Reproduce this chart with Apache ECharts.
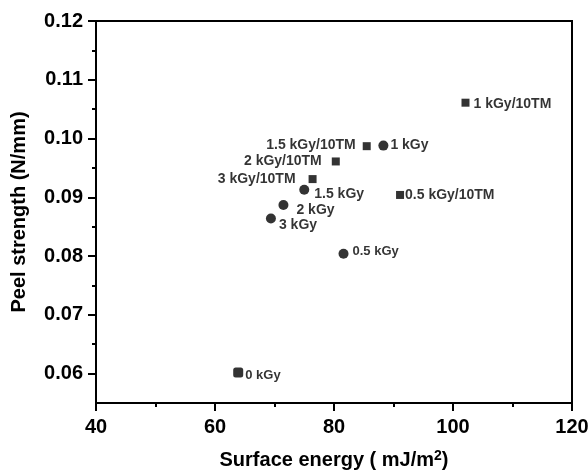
<!DOCTYPE html>
<html>
<head>
<meta charset="utf-8">
<title>Peel strength vs surface energy</title>
<script src="https://cdn.jsdelivr.net/npm/echarts@6/dist/echarts.min.js"></script>
<style>
  html, body { margin: 0; padding: 0; background: #fff; }
  #chart { width: 588px; height: 472px; }
</style>
</head>
<body>
<div id="chart"></div>
<script>
// irradiated samples (circles)
const doseNames = ['0 kGy', '0.5 kGy', '1 kGy', '1.5 kGy', '2 kGy', '3 kGy']
const doseEnergy = [63.9, 81.6, 88.3, 75.0, 71.5, 69.4]
const dosePeel = [0.0602, 0.0804, 0.0988, 0.0913, 0.0887, 0.0864]

// irradiated + 10TM samples (squares)
const tmNames = ['0.5 kGy/10TM', '1 kGy/10TM', '1.5 kGy/10TM', '2 kGy/10TM', '3 kGy/10TM']
const tmEnergy = [91.1, 102.1, 85.5, 80.3, 76.4]
const tmPeel = [0.0904, 0.1061, 0.0987, 0.0961, 0.0931]

const xTicks = [40, 60, 80, 100, 120]
const yTicks = [0.06, 0.07, 0.08, 0.09, 0.10, 0.11, 0.12]
const yMinorTicks = [0.065, 0.075, 0.085, 0.095, 0.105, 0.115]

// where each label sits next to its marker
const labelLayout = {
  '0 kGy': { position: 'right', distance: 2, offset: [0, 3], fontSize: 13 },
  '0.5 kGy': { position: 'right', distance: 4, offset: [0, -2], fontSize: 13 },
  '1 kGy': { position: 'right', distance: 2, offset: [0, 0] },
  '1.5 kGy': { position: 'right', distance: 5, offset: [0, 4] },
  '2 kGy': { position: 'right', distance: 8, offset: [0, 5] },
  '3 kGy': { position: 'right', distance: 3, offset: [0, 7] },
  '0.5 kGy/10TM': { position: 'right', distance: 1, offset: [0, 0] },
  '1 kGy/10TM': { position: 'right', distance: 4, offset: [0, 1] },
  '1.5 kGy/10TM': { position: 'left', distance: 7, offset: [0, -1] },
  '2 kGy/10TM': { position: 'left', distance: 10, offset: [0, 0] },
  '3 kGy/10TM': { position: 'left', distance: 13, offset: [0, 0] }
}

const font = '"Liberation Sans", Arial, sans-serif'

function buildPoints(names, xs, ys) {
  return names.map((name, i) => {
    const l = labelLayout[name]
    const item = {
      name: name,
      value: [xs[i], ys[i]],
      label: {
        show: true,
        formatter: name,
        position: l.position,
        distance: l.distance,
        offset: l.offset,
        fontSize: l.fontSize || 14,
        fontWeight: 'bold',
        fontFamily: font,
        color: '#000'
      }
    }
    if (name === '0 kGy') {
      item.symbol = 'roundRect'
    }
    return item
  })
}

const chart = echarts.init(document.getElementById('chart'))

chart.setOption({
  animation: false,
  backgroundColor: '#fff',
  grid: {
    left: 96,
    right: 16,
    top: 21,
    bottom: 69,
    outerBoundsMode: 'none',
    show: true,
    borderColor: '#000',
    borderWidth: 2
  },
  xAxis: {
    type: 'value',
    min: xTicks[0],
    max: xTicks[xTicks.length - 1],
    interval: 20,
    name: 'Surface energy ( mJ/m{sup|2})',
    nameLocation: 'middle',
    nameGap: 46,
    nameTextStyle: {
      fontSize: 20,
      fontWeight: 'bold',
      fontFamily: font,
      color: '#000',
      rich: {
        sup: {
          fontSize: 14,
          fontWeight: 'bold',
          fontFamily: font,
          color: '#000',
          verticalAlign: 'bottom',
          padding: [0, 0, 9, 0]
        }
      }
    },
    axisLine: { lineStyle: { color: '#000', width: 2 } },
    axisTick: { length: 8, lineStyle: { color: '#000', width: 2 } },
    minorTick: { show: true, splitNumber: 2, length: 4, lineStyle: { color: '#000', width: 2 } },
    splitLine: { show: false },
    axisLabel: {
      margin: 14,
      fontSize: 20,
      fontWeight: 'bold',
      fontFamily: font,
      color: '#000'
    }
  },
  yAxis: [
    {
      type: 'value',
      min: 0.055,
      max: 0.12,
      name: 'Peel strength (N/mm)',
      nameLocation: 'middle',
      nameGap: 67,
      nameTextStyle: {
        fontSize: 20,
        fontWeight: 'bold',
        fontFamily: font,
        color: '#000'
      },
      axisLine: { show: true, lineStyle: { color: '#000', width: 2 } },
      axisTick: { show: true, length: 8, customValues: yTicks, lineStyle: { color: '#000', width: 2 } },
      splitLine: { show: false },
      axisLabel: {
        customValues: yTicks,
        formatter: v => v.toFixed(2),
        margin: 13,
        fontSize: 20,
        fontWeight: 'bold',
        fontFamily: font,
        color: '#000'
      }
    },
    {
      type: 'value',
      position: 'left',
      min: 0.055,
      max: 0.12,
      axisLine: { show: false },
      axisTick: { show: true, length: 4, customValues: yMinorTicks, lineStyle: { color: '#000', width: 2 } },
      axisLabel: { show: false },
      splitLine: { show: false }
    }
  ],
  series: [
    {
      name: 'dose',
      type: 'scatter',
      symbol: 'circle',
      symbolSize: 10,
      itemStyle: { color: '#000' },
      data: buildPoints(doseNames, doseEnergy, dosePeel)
    },
    {
      name: 'dose + 10TM',
      type: 'scatter',
      symbol: 'rect',
      symbolSize: 8,
      itemStyle: { color: '#000' },
      data: buildPoints(tmNames, tmEnergy, tmPeel)
    }
  ]
})
</script>
</body>
</html>
